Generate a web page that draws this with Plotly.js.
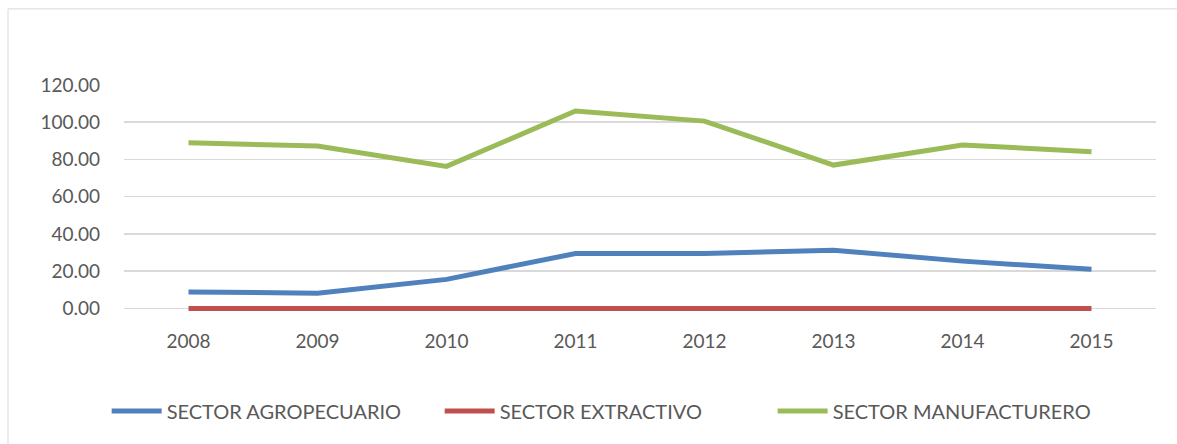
<!DOCTYPE html>
<html>
<head>
<meta charset="utf-8">
<script src="https://cdn.plot.ly/plotly-3.0.1.min.js"></script>
<style>html,body{margin:0;padding:0;background:#fff;}#chart{width:1177px;height:444px;}</style>
</head>
<body>
<div id="chart"></div>
<script>
const years = ["2008","2009","2010","2011","2012","2013","2014","2015"];
const agropecuario = [8.8, 8.2, 15.6, 29.5, 29.5, 31.3, 25.4, 21.0];
const extractivo = [0, 0, 0, 0, 0, 0, 0, 0];
const manufacturero = [89.0, 87.2, 76.3, 106.0, 100.6, 77.0, 87.8, 84.2];
const seriesNames = ["SECTOR AGROPECUARIO", "SECTOR EXTRACTIVO", "SECTOR MANUFACTURERO"];
const yTicks = [0, 20, 40, 60, 80, 100, 120];

const font = "Lato, 'Open Sans', sans-serif";
const mk = (y, name, color) => ({
  x: years, y: y, name: name, type: "scatter", mode: "lines",
  line: {color: color, width: 5, shape: "linear"}
});
const data = [
  mk(agropecuario, seriesNames[0], "#4F81BD"),
  mk(extractivo, seriesNames[1], "#C0504D"),
  mk(manufacturero, seriesNames[2], "#9BBB59")
];
const layout = {
  width: 1177, height: 444,
  margin: {l: 124, r: 21, t: 85, b: 130.4, autoexpand: false},
  paper_bgcolor: "#fff", plot_bgcolor: "#fff",
  font: {family: font, color: "#595959", size: 19},
  showlegend: true,
  legend: {orientation: "h", xref: "container", x: 0.515, xanchor: "center", y: -0.424, yanchor: "middle",
           font: {family: font, size: 20, color: "#595959"}, itemwidth: 50, traceorder: "normal",
           entrywidth: 268, entrywidthmode: "pixels"},
  xaxis: {type: "category", range: [-0.5, 7.5], showgrid: false, zeroline: false, showline: false,
          ticks: "", tickfont: {family: font, size: 19, color: "#595959"}, ticklabelstandoff: 14},
  yaxis: {range: [-3, 120], tickvals: yTicks, ticktext: yTicks.map(v => v.toFixed(2)),
          showgrid: true, gridcolor: "#D9D9D9", gridwidth: 1.5, zeroline: false, showline: false,
          ticks: "", ticklabelstandoff: 23, tickfont: {family: font, size: 19, color: "#595959"}},
  shapes: [
    {type: "rect", xref: "paper", yref: "paper", x0: -0.1124, x1: 1.03, y0: -0.65, y1: 1.3325,
     line: {color: "#D9D9D9", width: 1}, fillcolor: "rgba(0,0,0,0)"}
  ]
};
Plotly.newPlot("chart", data, layout, {displayModeBar: false, staticPlot: true});
</script>
</body>
</html>
